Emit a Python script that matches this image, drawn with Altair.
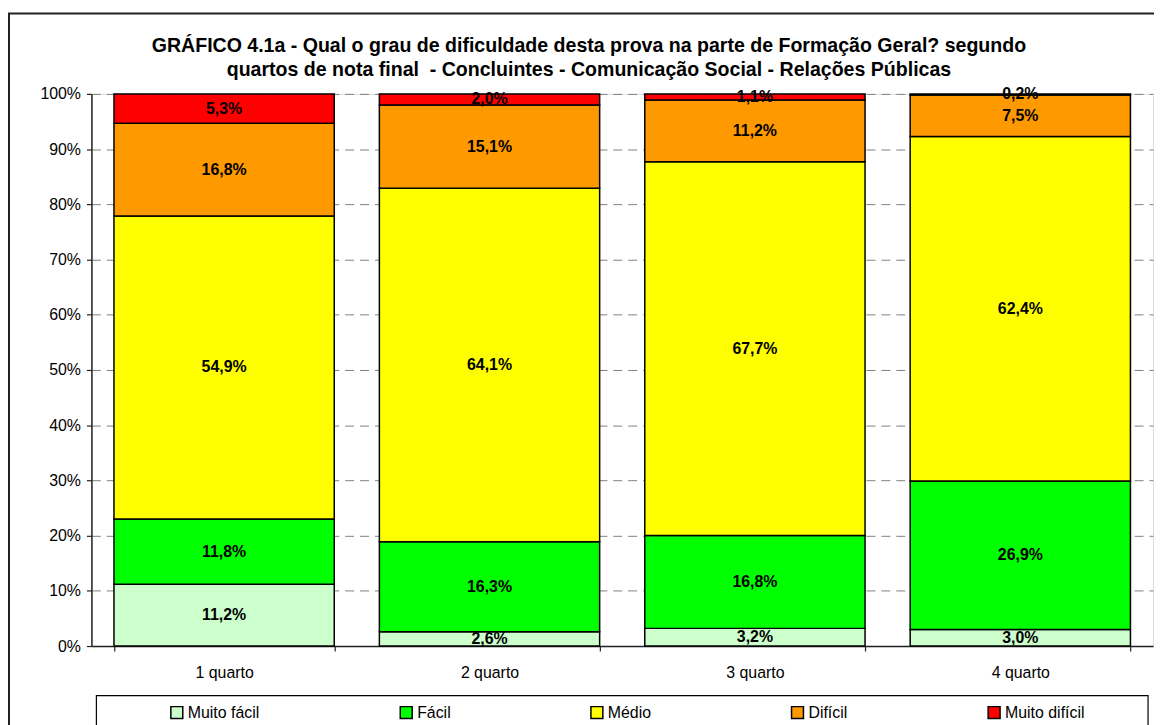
import altair as alt
import pandas as pd

quartos = ["1 quarto", "2 quarto", "3 quarto", "4 quarto"]
categorias = ["Muito fácil", "Fácil", "Médio", "Difícil", "Muito difícil"]
cores = ["#CCFFCC", "#00FF00", "#FFFF00", "#FF9900", "#FF0000"]

muito_facil = [11.2, 2.6, 3.2, 3.0]
facil = [11.8, 16.3, 16.8, 26.9]
medio = [54.9, 64.1, 67.7, 62.4]
dificil = [16.8, 15.1, 11.2, 7.5]
muito_dificil = [5.3, 2.0, 1.1, 0.2]

titulo = ["GRÁFICO 4.1a - Qual o grau de dificuldade desta prova na parte de Formação Geral? segundo",
          "quartos de nota final \u00a0- Concluintes - Comunicação Social - Relações Públicas"]

series = [muito_facil, facil, medio, dificil, muito_dificil]
rows = []
for ci, (cat, vals) in enumerate(zip(categorias, series)):
    for q, v in zip(quartos, vals):
        rows.append({"quarto": q, "categoria": cat, "ordem": ci, "valor": v,
                     "rotulo": f"{v:.1f}%".replace(".", ",")})
df = pd.DataFrame(rows)

FONT = "Liberation Sans"
W, H = 1069, 556

yscale = alt.Scale(domain=[0, 1], nice=False)
xenc = alt.X("quarto:N", sort=quartos, title=None,
             scale=alt.Scale(paddingInner=0.17, paddingOuter=0.085),
             axis=alt.Axis(labelAngle=0, labelFontSize=16, labelFont=FONT, labelColor="black",
                           domainColor="#222222", domainWidth=1.5, tickColor="#222222",
                           tickWidth=1.2, tickSize=5, tickBand="extent", labelPadding=14, grid=False))

base = alt.Chart(df).transform_window(
    cum="sum(valor)", groupby=["quarto"], sort=[alt.SortField("ordem")], frame=[None, 0]
).transform_joinaggregate(
    total="sum(valor)", groupby=["quarto"]
).transform_calculate(
    y1="datum.cum / datum.total",
    y0="(datum.cum - datum.valor) / datum.total",
    mid="(datum.cum - datum.valor / 2) / datum.total",
)

bars = base.mark_bar(stroke="black", strokeWidth=1.5).encode(
    x=xenc,
    y=alt.Y("y0:Q", scale=yscale, title=None,
            axis=alt.Axis(values=[i / 10 for i in range(11)], format=".0%", labelFontSize=16,
                          labelFont=FONT, labelColor="black", domainColor="#222222",
                          domainWidth=1.5, tickColor="#222222", tickWidth=1.2, tickSize=5,
                          labelPadding=6, grid=True, gridColor="#808080", gridDash=[9, 6],
                          gridWidth=1)),
    y2="y1:Q",
    color=alt.Color("categoria:N", sort=categorias,
                    scale=alt.Scale(domain=categorias, range=cores),
                    legend=alt.Legend(orient="none", legendX=78, legendY=615,
                                      direction="horizontal", title=None,
                                      symbolType="square", symbolSize=144,
                                      symbolStrokeColor="black", symbolStrokeWidth=1.5,
                                      labelFontSize=16, labelFont=FONT, labelColor="black",
                                      labelOffset=3, columnPadding=138, padding=0)),
)

labels = base.mark_text(fontSize=16, fontWeight="bold", font=FONT, color="black").encode(
    x=alt.X("quarto:N", sort=quartos),
    y=alt.Y("mid:Q", scale=yscale),
    text="rotulo:N",
)

frame_df = pd.DataFrame({"k": [0]})
outer = alt.Chart(frame_df).mark_rect(fill=None, stroke="#222222", strokeWidth=2).encode(
    x=alt.value(-83), x2=alt.value(W + 60), y=alt.value(-81), y2=alt.value(H + 200)
)
legend_box = alt.Chart(frame_df).mark_rect(fill="white", stroke="black", strokeWidth=1.2).encode(
    x=alt.value(5), x2=alt.value(1064), y=alt.value(606), y2=alt.value(H + 200)
)
title1 = alt.Chart(frame_df).mark_text(fontSize=19.7, fontWeight="bold", font=FONT, color="black",
                                       align="center", baseline="middle").encode(
    x=alt.value(501), y=alt.value(-48), text=alt.value(titulo[0])
)
title2 = alt.Chart(frame_df).mark_text(fontSize=19.7, fontWeight="bold", font=FONT, color="black",
                                       align="center", baseline="middle").encode(
    x=alt.value(501), y=alt.value(-24), text=alt.value(titulo[1])
)

chart = alt.layer(outer, legend_box, title1, title2, bars, labels).properties(
    width=W, height=H,
    autosize=alt.AutoSizeParams(type="none"),
    padding={"left": 84, "top": 84, "right": 1, "bottom": 77},
).configure_view(stroke="#808080", strokeWidth=1).configure(background="white")

chart.save("out.html", embed_options={"renderer": "svg", "actions": False})
